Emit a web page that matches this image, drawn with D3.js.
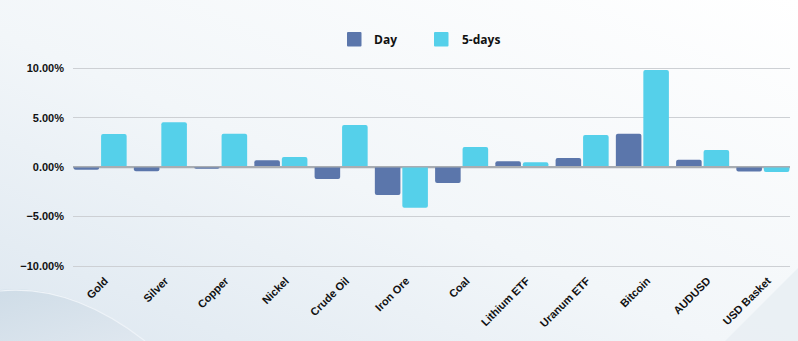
<!DOCTYPE html>
<html>
<head>
<meta charset="utf-8">
<script src="https://cdn.jsdelivr.net/npm/d3@7"></script>
<style>
  html, body { margin: 0; padding: 0; background: #fff; }
  svg { display: block; font-family: "Open Sans", Inter, "Noto Sans", sans-serif; }
</style>
</head>
<body>
<svg id="chart" width="798" height="341"></svg>
<script>
const categories = ["Gold", "Silver", "Copper", "Nickel", "Crude Oil", "Iron Ore", "Coal", "Lithium ETF", "Uranum ETF", "Bitcoin", "AUDUSD", "USD Basket"];
const seriesNames = ["Day", "5-days"];
const dayValues = [-0.3, -0.45, -0.2, 0.65, -1.25, -2.87, -1.65, 0.55, 0.88, 3.35, 0.71, -0.47];
const fiveDayValues = [3.31, 4.5, 3.35, 0.98, 4.22, -4.15, 2.0, 0.45, 3.21, 9.8, 1.69, -0.54];
const yTicks = [10, 5, 0, -5, -10];
const colors = ["#5b76ab", "#55d0ea"];

const svg = d3.select("#chart");
const W = 798, H = 341;

// background
const defs = svg.append("defs");
const bg = defs.append("linearGradient").attr("id", "bg").attr("x1", "0").attr("y1", "1").attr("x2", "1").attr("y2", "0");
bg.append("stop").attr("offset", "0").attr("stop-color", "#dde7f0");
bg.append("stop").attr("offset", "0.45").attr("stop-color", "#f2f6f9");
bg.append("stop").attr("offset", "1").attr("stop-color", "#ffffff");
svg.append("rect").attr("width", W).attr("height", H).attr("fill", "url(#bg)");
const wave = defs.append("linearGradient").attr("id", "wave").attr("x1", "0").attr("y1", "0").attr("x2", "1").attr("y2", "1");
wave.append("stop").attr("offset", "0").attr("stop-color", "#cddbe6");
wave.append("stop").attr("offset", "1").attr("stop-color", "#dfe7ef");
svg.append("path").attr("d", "M0,290 C50,285 100,305 145,341 L0,341 Z").attr("fill", "url(#wave)").attr("opacity", 0.9);
svg.append("path").attr("d", "M0,291 C50,286 100,306 145,341").attr("fill", "none").attr("stroke", "#eef3f8").attr("stroke-width", 1.2);
svg.append("path").attr("d", "M798,268 L798,341 L725,341 Z").attr("fill", "#e9eef3").attr("opacity", 0.9);

// scales
const x0 = d3.scaleBand().domain(categories).range([70, 793]).padding(0);
const x1 = d3.scaleBand().domain(seriesNames).range([3.6, x0.bandwidth() - 3.6]).paddingInner(0.07);
const y = d3.scaleLinear().domain([-10, 10]).range([265.5, 68]);

// grid
const grid = svg.append("g");
yTicks.forEach(t => {
  grid.append("line")
    .attr("x1", 73).attr("x2", 790)
    .attr("y1", Math.round(y(t)) + 0.5).attr("y2", Math.round(y(t)) + 0.5)
    .attr("stroke", t === 0 ? "#a9adb2" : "#cdd0d4").attr("stroke-width", t === 0 ? 1.5 : 1.2);
});

// y axis labels
const yAxis = d3.axisLeft(y).tickValues(yTicks).tickSize(0).tickPadding(0)
  .tickFormat(d => d3.format(".2f")(d) + "%");
const gy = svg.append("g").attr("transform", "translate(64,0)").call(yAxis);
gy.select(".domain").remove();
gy.selectAll("text").attr("font-size", 11).attr("font-weight", 700).attr("fill", "#111").attr("dy", "0.35em");

// bars
const data = categories.map((c, i) => ({ c, vals: [dayValues[i], fiveDayValues[i]] }));
const groups = svg.append("g").selectAll("g").data(data).join("g")
  .attr("transform", d => `translate(${x0(d.c)},0)`);
groups.selectAll("path").data(d => d.vals.map((v, j) => ({ v, s: seriesNames[j], j })))
  .join("path")
  .attr("fill", d => colors[d.j])
  .attr("d", d => {
    const xl = x1(d.s), w = x1.bandwidth();
    const y0 = y(0), yv = y(d.v);
    const r = Math.min(2, Math.abs(yv - y0));
    if (d.v >= 0) {
      return `M${xl},${y0} L${xl},${yv + r} Q${xl},${yv} ${xl + r},${yv} L${xl + w - r},${yv} Q${xl + w},${yv} ${xl + w},${yv + r} L${xl + w},${y0} Z`;
    } else {
      return `M${xl},${y0} L${xl},${yv - r} Q${xl},${yv} ${xl + r},${yv} L${xl + w - r},${yv} Q${xl + w},${yv} ${xl + w},${yv - r} L${xl + w},${y0} Z`;
    }
  });

// zero line on top
svg.append("line").attr("x1", 73).attr("x2", 790)
  .attr("y1", y(0)).attr("y2", y(0)).attr("stroke", "#a9adb2").attr("stroke-width", 1.5);

// x axis labels
const xAxis = d3.axisBottom(x0).tickSize(0).tickPadding(0);
const gx = svg.append("g").call(xAxis);
gx.select(".domain").remove();
gx.selectAll(".tick").attr("transform", d => `translate(${x0(d) + x0.bandwidth() / 2 + 6},279)`);
gx.selectAll("text")
  .attr("font-size", 11).attr("font-weight", 700).attr("fill", "#111")
  .attr("text-anchor", "end").attr("y", 0).attr("dy", "0.35em")
  .attr("transform", "rotate(-45)");

// legend
const legend = svg.append("g");
const legItems = [{ n: "Day", x: 347, tx: 374 }, { n: "5-days", x: 434, tx: 462 }];
legItems.forEach((l, i) => {
  legend.append("rect").attr("x", l.x).attr("y", 32).attr("width", 14.5).attr("height", 14.5).attr("rx", 1).attr("fill", colors[i]);
  legend.append("text").attr("x", l.tx).attr("y", 39.5).attr("dy", "0.35em")
    .attr("font-size", 12).attr("font-weight", 700).attr("fill", "#111").text(l.n);
});
</script>
</body>
</html>
